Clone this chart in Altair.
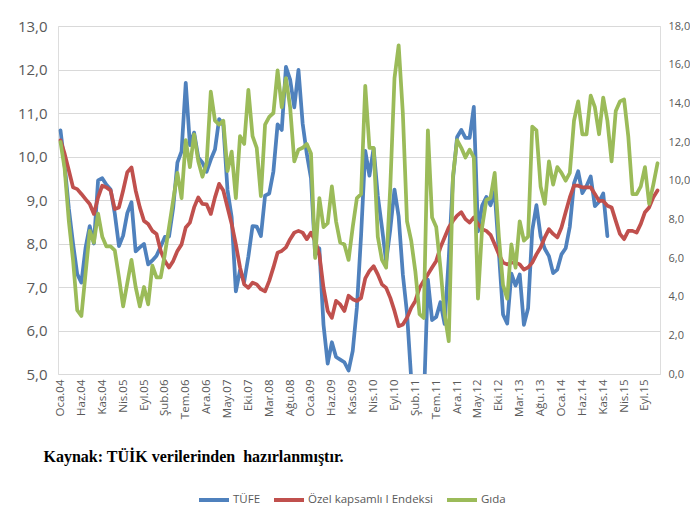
import altair as alt
import pandas as pd

month_abbr = ["Oca", "Şub", "Mar", "Nis", "May", "Haz", "Tem", "Ağu", "Eyl", "Eki", "Kas", "Ara"]
year_suffix = ["04", "05", "06", "07", "08", "09", "10", "11", "12", "13", "14", "15"]
dates = [f"{m}.{y}" for y in year_suffix for m in month_abbr]

tick_labels = ["Oca.04", "Haz.04", "Kas.04", "Nis.05", "Eyl.05", "Şub.06", "Tem.06", "Ara.06",
               "May.07", "Eki.07", "Mar.08", "Ağu.08", "Oca.09", "Haz.09", "Kas.09", "Nis.10",
               "Eyl.10", "Şub.11", "Tem.11", "Ara.11", "May.12", "Eki.12", "Mar.13", "Ağu.13",
               "Oca.14", "Haz.14", "Kas.14", "Nis.15", "Eyl.15"]

series_names = ["TÜFE", "Özel kapsamlı I Endeksi", "Gıda"]
series_colors = ["#4F81BD", "#C0504D", "#9BBB59"]

source_text = "Kaynak: TÜİK verilerinden\u00a0 hazırlanmıştır."

# TÜFE (left axis), Oca.04 - Ara.14
tufe = [10.6, 9.8, 8.8, 8.0, 7.3, 7.1, 7.9, 8.4, 8.0, 9.45, 9.5, 9.35,
        9.24, 8.69, 7.94, 8.18, 8.70, 8.95, 7.82, 7.91, 7.99, 7.52, 7.61, 7.72,
        7.93, 8.15, 8.16, 8.83, 9.86, 10.12, 11.69, 10.26, 10.55, 9.98, 9.86, 9.65,
        9.93, 10.16, 10.86, 10.72, 9.23, 8.60, 6.90, 7.39, 7.12, 7.70, 8.40, 8.39,
        8.17, 9.10, 9.15, 9.66, 10.74, 10.61, 12.06, 11.77, 11.13, 11.99, 10.76, 10.06,
        9.50, 7.73, 7.89, 6.13, 5.24, 5.73, 5.39, 5.33, 5.27, 5.08, 5.53, 6.53,
        8.19, 10.13, 9.56, 10.19, 9.10, 8.37, 7.58, 8.33, 9.24, 8.62, 7.29, 6.40,
        4.90, 4.16, 3.99, 4.26, 7.17, 6.24, 6.31, 6.65, 6.15, 7.66, 9.48, 10.45,
        10.61, 10.43, 10.43, 11.14, 8.28, 8.87, 9.07, 8.88, 9.19, 7.80, 6.37, 6.16,
        7.31, 7.03, 7.29, 6.13, 6.51, 8.30, 8.88, 8.17, 7.88, 7.71, 7.32, 7.40,
        7.75, 7.89, 8.39, 9.38, 9.66, 9.16, 9.32, 9.54, 8.86, 8.96, 9.15, 8.17]

# Özel kapsamlı I Endeksi (left axis), Oca.04 - Ara.15
ozel = [10.37, 10.06, 9.68, 9.29, 9.25, 9.14, 9.02, 8.91, 8.68, 9.06, 9.33, 9.29,
        9.22, 8.79, 8.83, 9.22, 9.64, 9.75, 9.22, 8.83, 8.52, 8.45, 8.29, 8.22,
        7.83, 7.60, 7.45, 7.60, 7.83, 7.98, 8.37, 8.48, 8.83, 9.06, 8.91, 8.90,
        8.68, 9.06, 9.37, 9.22, 8.83, 8.45, 7.98, 7.45, 7.06, 6.98, 7.10, 7.06,
        6.95, 6.90, 7.14, 7.45, 7.79, 7.83, 7.91, 8.10, 8.25, 8.29, 8.25, 8.10,
        8.25, 8.06, 7.75, 6.98, 6.45, 6.29, 6.68, 6.60, 6.45, 6.80, 6.72, 6.68,
        6.75, 7.20, 7.37, 7.48, 7.29, 7.06, 6.98, 6.75, 6.45, 6.10, 6.14, 6.29,
        6.52, 6.68, 6.98, 7.14, 7.29, 7.45, 7.60, 7.91, 8.14, 8.37, 8.52, 8.64,
        8.72, 8.56, 8.48, 8.60, 8.45, 8.33, 8.29, 8.20, 7.98, 7.75, 7.56, 7.52,
        7.56, 7.56, 7.52, 7.40, 7.45, 7.56, 7.75, 7.91, 8.14, 8.33, 8.22, 8.14,
        8.37, 8.72, 9.06, 9.33, 9.33, 9.29, 9.29, 9.29, 9.14, 8.98, 8.98, 8.87,
        8.83, 8.52, 8.22, 8.10, 8.29, 8.29, 8.25, 8.45, 8.72, 8.83, 9.06, 9.22]

# Gıda (right axis), Oca.04 - Ara.15
gida = [12.0, 10.6, 7.9, 5.9, 3.3, 3.0, 5.2, 7.4, 6.8, 8.3, 7.1, 6.6,
        6.6, 6.4, 5.0, 3.5, 4.7, 5.9, 4.5, 3.5, 4.5, 3.6, 5.6, 5.0,
        5.0, 6.2, 7.6, 9.0, 10.4, 9.1, 12.1, 10.7, 12.4, 11.0, 10.2, 10.9,
        14.6, 13.1, 12.9, 13.1, 10.5, 11.5, 9.1, 12.3, 11.9, 14.7, 12.3, 11.7,
        9.2, 12.9, 13.3, 13.5, 15.7, 13.8, 15.3, 13.8, 11.0, 11.6, 11.7, 11.9,
        11.4, 6.0, 9.1, 7.6, 7.8, 9.7, 7.9, 6.8, 6.7, 5.9, 7.6, 9.1,
        9.3, 14.9, 11.7, 11.7, 7.1, 5.9, 5.5, 9.7, 15.3, 17.0, 13.5, 7.9,
        6.9, 5.3, 3.1, 2.9, 12.6, 8.1, 7.6, 5.5, 3.1, 1.7, 10.2, 12.1,
        11.7, 11.2, 11.6, 11.2, 3.9, 7.6, 9.0, 9.1, 10.4, 7.1, 4.6, 3.9,
        6.7, 5.5, 7.9, 6.9, 7.1, 12.8, 12.6, 9.7, 8.8, 11.0, 9.8, 10.7,
        10.4, 10.0, 10.4, 13.1, 14.1, 12.4, 12.4, 14.4, 13.8, 12.4, 14.3, 13.1,
        11.0, 13.6, 14.1, 14.2, 12.3, 9.3, 9.3, 9.7, 10.7, 8.8, 9.8, 10.9]

left_rows = []
for i, v in enumerate(tufe):
    left_rows.append({"date": dates[i], "idx": i, "series": series_names[0], "value": v})
for i, v in enumerate(ozel):
    left_rows.append({"date": dates[i], "idx": i, "series": series_names[1], "value": v})
left_df = pd.DataFrame(left_rows)
right_df = pd.DataFrame({"date": dates[:len(gida)], "idx": list(range(len(gida))),
                         "series": series_names[2], "value": gida})

label_font = "Open Sans"
label_color = "#595959"

xenc = alt.X(
    "date:O",
    scale=alt.Scale(type="point", domain=dates, padding=0.6),
    axis=alt.Axis(values=tick_labels, labelAngle=270, labelFont=label_font, labelFontSize=11.5,
                  labelColor=label_color, ticks=False, domain=False, labelPadding=5,
                  grid=False, title=source_text, titleFont="Liberation Serif", titleFontSize=16,
                  titleFontWeight="bold", titleColor="#000000", titleAlign="left",
                  titleBaseline="alphabetic", titleAnchor="start", titleX=-15, titleY=87),
)

color = alt.Color(
    "series:N",
    scale=alt.Scale(domain=series_names, range=series_colors),
    legend=alt.Legend(orient="none", legendX=139, legendY=457, direction="horizontal",
                      title=None, symbolType="stroke", symbolStrokeWidth=4, symbolSize=900,
                      labelFont=label_font, labelFontSize=11.5, labelColor=label_color,
                      labelOffset=2, columnPadding=5),
)

line_style = dict(strokeWidth=3.75, clip=True, strokeJoin="round", strokeCap="round")

left_chart = alt.Chart(left_df).mark_line(**line_style).encode(
    x=xenc,
    y=alt.Y("value:Q",
            scale=alt.Scale(domain=[5, 13], nice=False, zero=False),
            axis=alt.Axis(values=[5, 6, 7, 8, 9, 10, 11, 12, 13], orient="left",
                          labelExpr="replace(format(datum.value, '.1f'), '.', ',')",
                          grid=True, gridColor="#D9D9D9", gridWidth=1, domain=False, ticks=False,
                          labelFont=label_font, labelFontSize=15, labelColor=label_color,
                          labelPadding=11, title=None)),
    color=color,
    order=alt.Order("idx:Q"),
)

right_chart = alt.Chart(right_df).mark_line(**line_style).encode(
    x=xenc,
    y=alt.Y("value:Q",
            scale=alt.Scale(domain=[0, 18], nice=False, zero=False),
            axis=alt.Axis(values=[0, 2, 4, 6, 8, 10, 12, 14, 16, 18], orient="right",
                          labelExpr="replace(format(datum.value, '.1f'), '.', ',')",
                          grid=False, domain=False, ticks=False,
                          labelFont=label_font, labelFontSize=11, labelColor=label_color,
                          labelPadding=8, title=None)),
    color=color,
    order=alt.Order("idx:Q"),
)

chart = alt.layer(left_chart, right_chart).resolve_scale(y="independent").properties(
    width=602,
    height=348,
    padding={"left": 50, "top": 18, "right": 30, "bottom": 134},
    autosize=alt.AutoSizeParams(type="none"),
).configure_view(strokeWidth=0).configure(background="#FFFFFF")

chart.save("out.html", embed_options={"renderer": "svg", "actions": False})
